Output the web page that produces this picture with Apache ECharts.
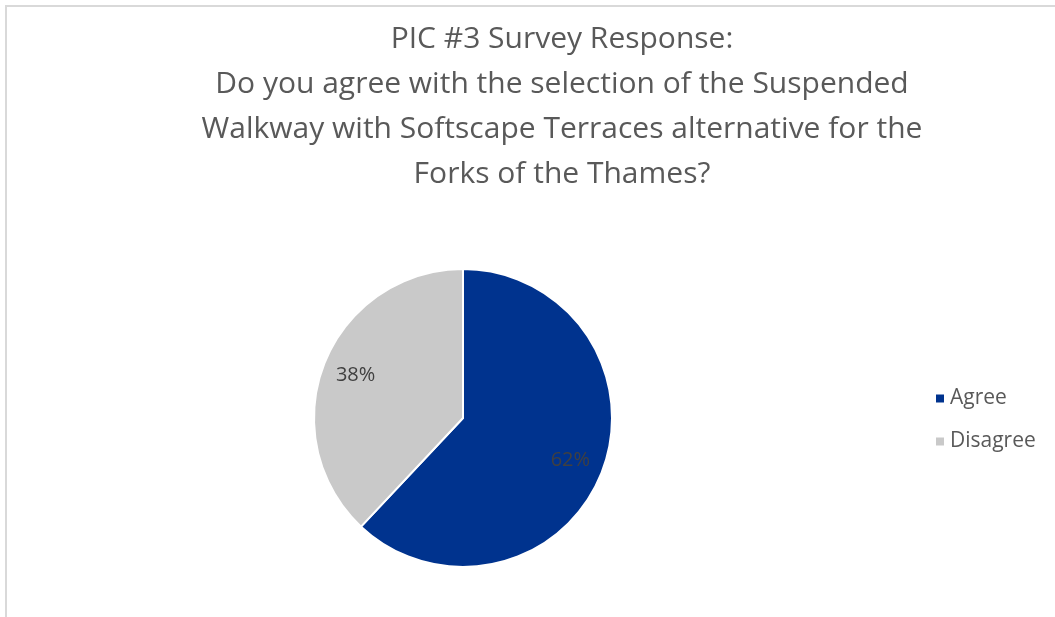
<!DOCTYPE html>
<html>
<head>
<meta charset="utf-8">
<script src="https://cdn.jsdelivr.net/npm/echarts@6/dist/echarts.min.js"></script>
<style>
html,body{margin:0;padding:0;background:#fff;overflow:hidden;}
#frame{position:absolute;left:5px;top:5px;width:1200px;height:800px;border-left:2px solid #d9d9d9;border-top:2px solid #d9d9d9;}
#chart{position:absolute;left:0;top:0;width:1055px;height:617px;}
</style>
</head>
<body>
<div id="frame"></div>
<div id="chart"></div>
<script>
const titleLines = [
  "PIC #3 Survey Response:",
  "Do you agree with the selection of the Suspended",
  "Walkway with Softscape Terraces alternative for the",
  "Forks of the Thames?"
];
const categories = ["Agree", "Disagree"];
const values = [62, 38];
const colors = ["#00338e", "#c9c9c9"];

const chart = echarts.init(document.getElementById('chart'), null, {renderer: 'canvas'});
const data = categories.map((c, i) => ({name: c, value: values[i], itemStyle: {color: colors[i]}}));
const font = "'Open Sans', sans-serif";
chart.setOption({
  animation: false,
  backgroundColor: 'transparent',
  title: {
    text: titleLines.join('\n'),
    left: 557,
    top: 12,
    textAlign: 'center',
    textStyle: {fontFamily: font, fontSize: 30, fontWeight: 'normal', color: '#595959', lineHeight: 45}
  },
  legend: {
    orient: 'vertical',
    left: 929,
    top: 383,
    itemWidth: 10,
    itemHeight: 10,
    itemGap: 22,
    icon: 'rect',
    data: categories,
    textStyle: {fontFamily: font, fontSize: 21, color: '#595959'}
  },
  series: [
    {
      type: 'pie',
      center: [463, 418],
      radius: [0, 149],
      startAngle: 90,
      clockwise: true,
      data: data,
      label: {show: false},
      labelLine: {show: false},
      itemStyle: {borderColor: '#fff', borderWidth: 2},
      emphasis: {disabled: true}
    },
    {
      type: 'pie',
      center: [463, 418],
      radius: [76, 149],
      startAngle: 90,
      clockwise: true,
      silent: true,
      data: categories.map((c, i) => ({name: c, value: values[i], itemStyle: {color: 'rgba(0,0,0,0)'}})),
      label: {
        show: true,
        position: 'inside',
        formatter: p => p.value + '%',
        fontFamily: font,
        fontSize: 20,
        color: '#404040'
      },
      labelLine: {show: false},
      emphasis: {disabled: true}
    }
  ]
});
</script>
</body>
</html>
